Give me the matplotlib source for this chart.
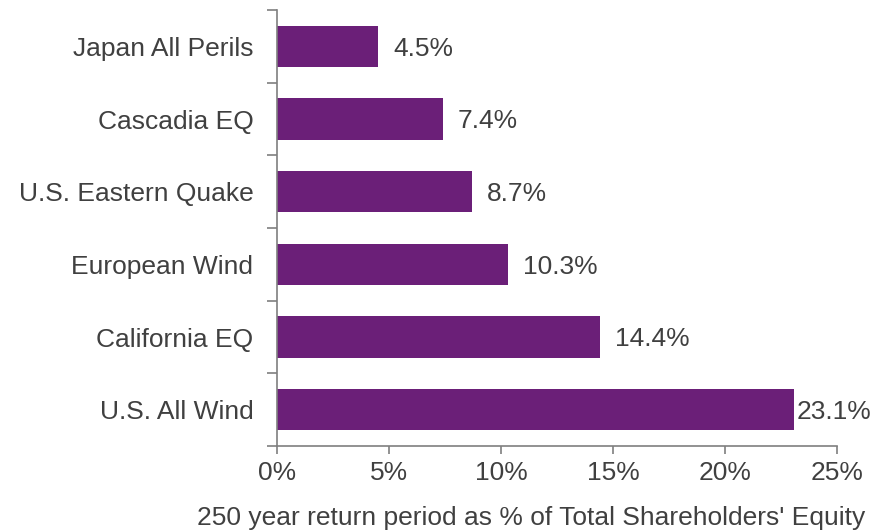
import matplotlib
matplotlib.use("Agg")
import matplotlib.pyplot as plt
from matplotlib.ticker import FixedLocator, NullFormatter, FuncFormatter

categories = ["Japan All Perils", "Cascadia EQ", "U.S. Eastern Quake",
              "European Wind", "California EQ", "U.S. All Wind"]
values = [4.5, 7.4, 8.7, 10.3, 14.4, 23.1]
xticks = [0, 5, 10, 15, 20, 25]
xlabel = "250 year return period as % of Total Shareholders' Equity"

plt.rcParams['font.family'] = ['Liberation Sans', 'DejaVu Sans']
TXT = "#404040"
GRID = "#7f7f7f"
BAR = "#6b1f78"
FS = 19

fig = plt.figure(figsize=(8.87, 5.30), dpi=100)
ax = fig.add_axes([277/887, 1-446/530, (837-277)/887, (446-10)/530])

pos = list(range(len(categories)))
ax.barh(pos, values, height=0.565, color=BAR)
ax.set_ylim(len(categories)-0.5, -0.5)
ax.set_xlim(0, 25)

# y axis: ticks at boundaries, labels at centers
ax.yaxis.set_major_locator(FixedLocator([p - 0.5 for p in pos] + [len(pos) - 0.5]))
ax.yaxis.set_major_formatter(NullFormatter())
ax.yaxis.set_minor_locator(FixedLocator(pos))
ax.set_yticklabels(categories, minor=True)
ax.tick_params(axis='y', which='major', length=7, width=1.2, color=GRID, direction='out')
ax.tick_params(axis='y', which='minor', length=0, pad=17, labelsize=FS, labelcolor=TXT)

ax.set_xticks(xticks)
ax.xaxis.set_major_formatter(FuncFormatter(lambda v, p: f"{v:.0f}%"))
ax.tick_params(axis='x', length=6, width=1.2, color=GRID, direction='out', pad=5,
               labelsize=FS, labelcolor=TXT)

for s in ['top', 'right']:
    ax.spines[s].set_visible(False)
for s in ['left', 'bottom']:
    ax.spines[s].set_color(GRID)
    ax.spines[s].set_linewidth(1.2)

for p, v in zip(pos, values):
    off = 1.5 if v > 22 else 11
    ax.annotate(f"{v:.1f}%", xy=(v, p), xytext=(off, 0), textcoords='offset points',
                ha='left', va='center_baseline', fontsize=FS, color=TXT,
                annotation_clip=False)

fig.text(197/887, 1-518/530, xlabel, ha='left', va='center', fontsize=FS, color=TXT)

fig.savefig("out.png", dpi=100)
